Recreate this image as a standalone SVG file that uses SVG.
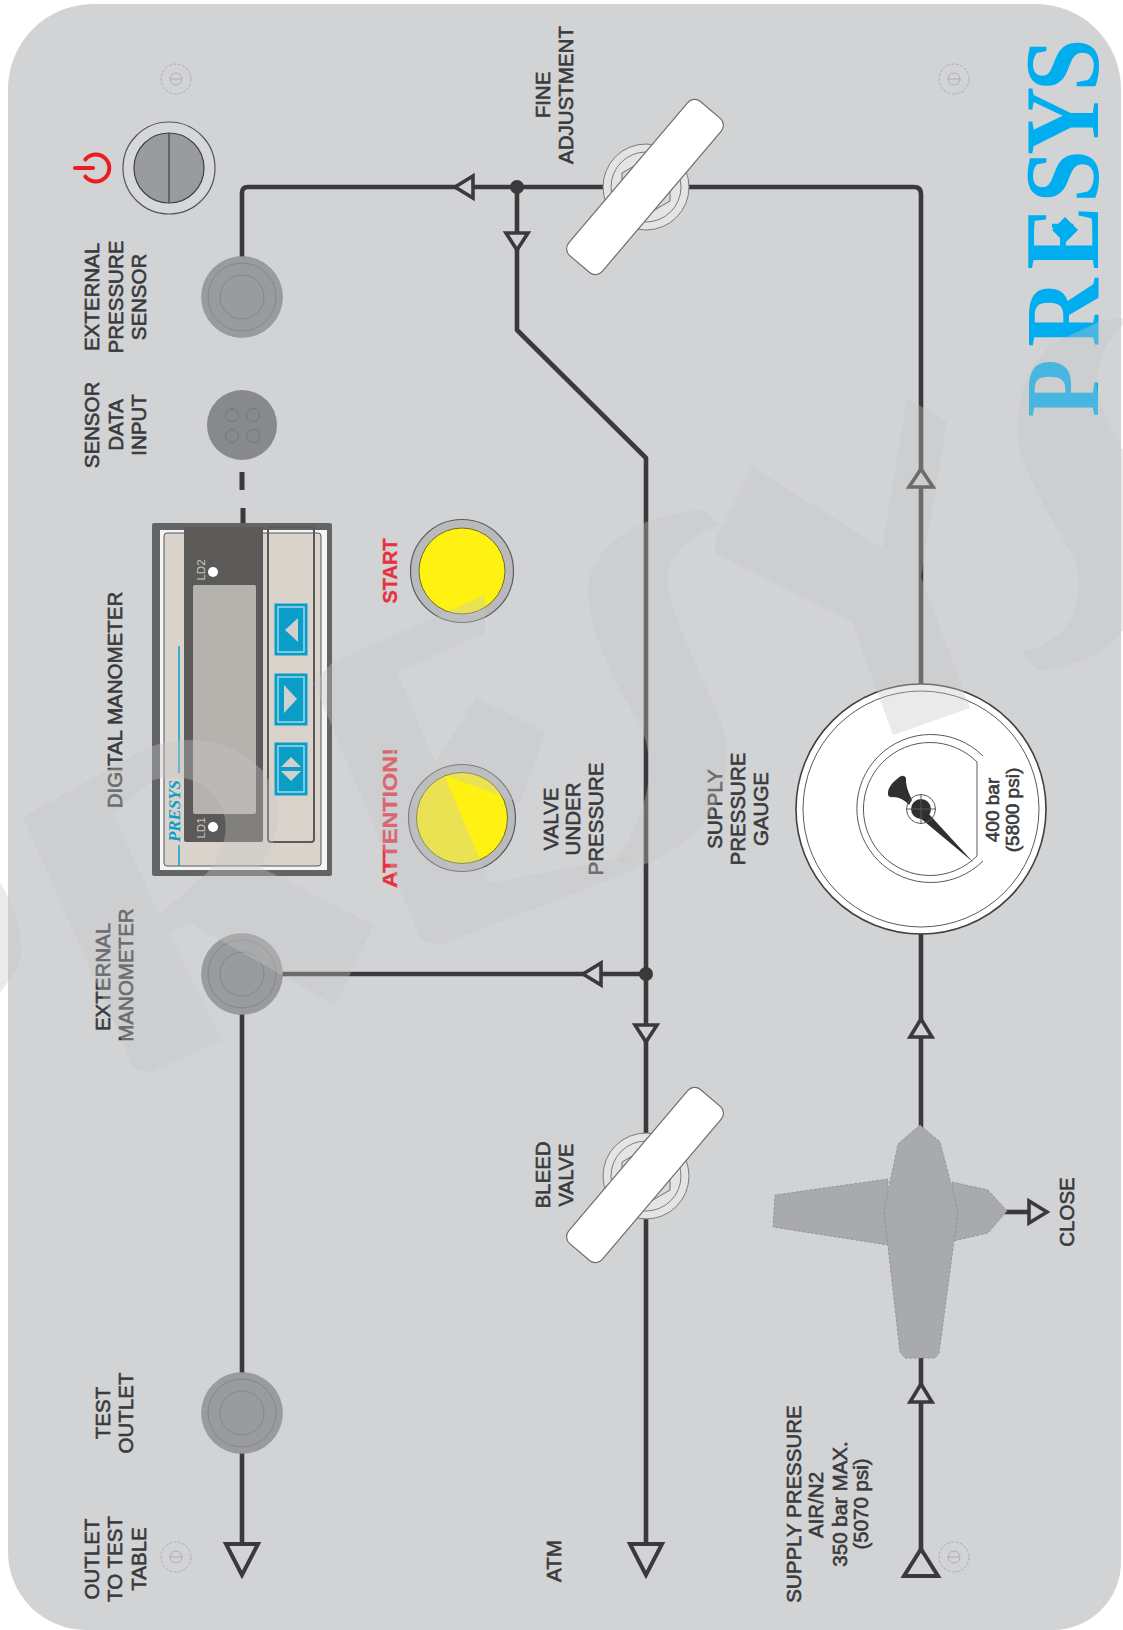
<svg xmlns="http://www.w3.org/2000/svg" width="1123" height="1630" viewBox="0 0 1123 1630">
<defs>
<style>
.lb{font-family:"Liberation Sans",Arial,sans-serif;font-size:20.5px;fill:#3a3a3c;stroke:#3a3a3c;stroke-width:.6;text-anchor:middle}
.rd{font-family:"Liberation Sans",Arial,sans-serif;font-size:20px;font-weight:bold;fill:#e8303e;stroke:#e8303e;stroke-width:.3;text-anchor:middle}
.ld{font-family:"Liberation Sans",Arial,sans-serif;font-size:11.5px;fill:#c9c7c2;text-anchor:middle}
.pipe{fill:none;stroke:#3a3a3c;stroke-width:4.6;stroke-linejoin:round}
.arr{fill:#d2d3d5;stroke:#3a3a3c;stroke-width:3.6;stroke-linejoin:miter}
.dot{fill:#3a3a3c}
.out{fill:#9a9b9d;stroke:#8f9092;stroke-width:.6}
.ring{fill:none;stroke:#808183;stroke-width:.8}
.scr{fill:none;stroke:#a2a3a5;stroke-width:.8}
.scrd{fill:none;stroke:#a2a3a5;stroke-width:.8;stroke-dasharray:3 1.5}
.hole{fill:none;stroke:#757678;stroke-width:1}
.handle{fill:#fff;stroke:#6c6d6f;stroke-width:1.2}
.vr{fill:#e4e4e5;stroke:#7a7b7d;stroke-width:1}
.vh{fill:#d8d9da;stroke:#6f7072;stroke-width:1}
.yr{fill:#b9babc;stroke:#58595b;stroke-width:1.2}
.yl{fill:#fff212;stroke:#6e6a30;stroke-width:1}
.key{fill:#0a9dc8;stroke:#0a9dc8;stroke-width:1}
.kin{fill:none;stroke:#bfe6f0;stroke-width:1.2}
.ktri{fill:#d0d0cc}
.sv{fill:#a9aaac;stroke:#8c8d8f;stroke-width:.8;stroke-dasharray:3 1.5}
.gl{fill:none;stroke:#58595b;stroke-width:1}
.wm{fill:#c4c4c4;opacity:.36}
</style>
</defs>

<rect width="1123" height="1630" fill="#fff"/>
<path id="panel" d="M93,4H1036A85,85 0 0 1 1121,89V1562A68,68 0 0 1 1053,1630H86A78,78 0 0 1 8,1552V89A85,85 0 0 1 93,4Z" fill="#d2d3d5"/>

<g id="screws">
<g id="screw-1"><circle class="scrd" cx="176" cy="79" r="15"/><circle class="scr" cx="176" cy="79" r="6"/><path class="scr" d="M170,79H182"/></g>
<g id="screw-2"><circle class="scrd" cx="954" cy="79" r="15"/><circle class="scr" cx="954" cy="79" r="6"/><path class="scr" d="M948,79H960"/></g>
<g id="screw-3"><circle class="scrd" cx="176" cy="1557" r="15"/><circle class="scr" cx="176" cy="1557" r="6"/><path class="scr" d="M170,1557H182"/></g>
<g id="screw-4"><circle class="scrd" cx="954" cy="1557" r="15"/><circle class="scr" cx="954" cy="1557" r="6"/><path class="scr" d="M948,1557H960"/></g>
</g>

<g id="connectors">
<path class="pipe" d="M242,260V193Q242,187 248,187H914Q921,187 921,194V690"/>
<path class="pipe" d="M517,187V330L646,458V1548"/>
<path class="pipe" d="M282,974H646"/>
<path class="pipe" d="M242,1010V1545"/>
<path class="pipe" d="M921,930V1128"/>
<path class="pipe" d="M921,1355V1550"/>
<path class="pipe" d="M1005,1212H1028"/>
<path d="M242,472V490M243,508V524" fill="none" stroke="#3a3a3c" stroke-width="5"/>
<circle class="dot" cx="517" cy="187" r="7"/>
<circle class="dot" cx="646" cy="974" r="7"/>
<polygon class="arr" points="455,187 473,176 473,198"/>
<polygon class="arr" points="517,250 506,233 528,233"/>
<polygon class="arr" points="583,974 601,963 601,985"/>
<polygon class="arr" points="646,1042 635,1025 657,1025"/>
<polygon class="arr" points="921,469 909,487 933,487"/>
<polygon class="arr" points="921,1019 910,1037 932,1037"/>
<polygon class="arr" points="921,1384 910,1402 932,1402"/>
<polygon class="arr" points="1047,1212 1029,1201 1029,1223"/>
<polygon class="arr" style="stroke-width:4" points="242,1575 226,1544 258,1544"/>
<polygon class="arr" style="stroke-width:4" points="646,1575 630,1544 662,1544"/>
<polygon class="arr" style="stroke-width:4" points="921,1549 904,1576 938,1576"/>
</g>

<g id="power-button">
<path d="M85.3,159.5A13.5,13.5 0 1 1 85.3,176.5M75,168H93" fill="none" stroke="#ed1c24" stroke-width="4" stroke-linecap="round"/>
<circle cx="169" cy="168" r="46" fill="#d6d7d9" stroke="#55565a" stroke-width="1.2"/>
<circle cx="169" cy="168" r="35" fill="#9a9b9d" stroke="#3f4042" stroke-width="1.2"/>
<path d="M169,133V203" stroke="#3f4042" stroke-width="1.2"/>
</g>

<g id="external-pressure-sensor"><circle class="out" cx="242" cy="297" r="40.5"/><circle class="ring" cx="242" cy="297" r="34"/><circle class="ring" cx="242" cy="297" r="22"/></g>
<g id="sensor-data-input"><circle cx="242" cy="425" r="35" fill="#88898b"/><circle class="hole" cx="232" cy="415" r="6.5"/><circle class="hole" cx="253" cy="415" r="6.5"/><circle class="hole" cx="232" cy="436" r="6.5"/><circle class="hole" cx="253" cy="436" r="6.5"/></g>
<g id="external-manometer"><circle class="out" cx="242" cy="974" r="40.5"/><circle class="ring" cx="242" cy="974" r="34"/><circle class="ring" cx="242" cy="974" r="22"/></g>
<g id="test-outlet"><circle class="out" cx="242" cy="1413" r="40.5"/><circle class="ring" cx="242" cy="1413" r="34"/><circle class="ring" cx="242" cy="1413" r="22"/></g>

<g id="digital-manometer">
<rect x="152" y="523" width="180" height="353" rx="2" fill="#636466"/>
<rect x="160" y="530" width="167" height="340" fill="#f4f4f2"/>
<rect x="164" y="533" width="157" height="333" rx="3" fill="#d9d3cb" stroke="#55565a" stroke-width="1"/>
<rect x="184" y="527" width="79" height="315" rx="2" fill="#5b5a58"/>
<rect x="193" y="585" width="63" height="229" rx="2" fill="#b5b3ad"/>
<circle cx="213" cy="572" r="5" fill="#fff"/>
<circle cx="213" cy="827" r="5" fill="#fff"/>
<text class="ld" transform="translate(205,570) rotate(-90)">LD2</text>
<text class="ld" transform="translate(205,828) rotate(-90)">LD1</text>
<rect x="268" y="527" width="46" height="315" rx="3" fill="none" stroke="#5b5a58" stroke-width="2"/>
<rect class="key" x="275" y="604" width="32" height="51"/><rect class="kin" x="278" y="607" width="26" height="45"/><polygon class="ktri" points="285,630 298,618 298,642"/>
<rect class="key" x="275" y="674" width="32" height="51"/><rect class="kin" x="278" y="677" width="26" height="45"/><polygon class="ktri" points="297,699 284,685 284,713"/>
<rect class="key" x="275" y="743" width="32" height="52"/><rect class="kin" x="278" y="746" width="26" height="46"/><polygon class="ktri" points="291,757 281,767 301,767"/><polygon class="ktri" points="291,781 281,771 301,771"/>
<path d="M179,646V773M179,845V866" stroke="#1aa5cb" stroke-width="1.6" fill="none"/>
<text transform="translate(180,842) rotate(-90)" font-family="'Liberation Serif',serif" font-weight="bold" font-style="italic" font-size="17" fill="#0a9ec9" textLength="62" lengthAdjust="spacingAndGlyphs">PRESYS</text>
</g>

<g id="start-button"><circle class="yr" cx="462" cy="571" r="51.5"/><circle class="yl" cx="462" cy="571" r="43"/></g>
<g id="attention-button"><circle class="yr" cx="462" cy="818" r="53.5"/><circle class="yl" cx="462" cy="818" r="45.5"/></g>

<g id="fine-adjustment-valve">
<circle class="vr" cx="646" cy="187" r="43"/><circle class="vr" cx="646" cy="187" r="35"/><polygon class="vh" points="646,159 670,173 670,201 646,215 622,201 622,173"/>
<rect class="handle" x="-101" y="-22" width="202" height="44" rx="9" transform="translate(645,187) rotate(-49.7)"/>
</g>
<g id="bleed-valve">
<circle class="vr" cx="646" cy="1176" r="43"/><circle class="vr" cx="646" cy="1176" r="35"/><polygon class="vh" points="646,1148 670,1162 670,1190 646,1204 622,1190 622,1162"/>
<rect class="handle" x="-101" y="-22" width="202" height="44" rx="9" transform="translate(645,1175) rotate(-49.7)"/>
</g>

<g id="supply-pressure-gauge">
<circle cx="921" cy="809" r="125" fill="#fff" stroke="#3f4042" stroke-width="1.6"/>
<circle class="gl" cx="921" cy="809" r="118"/>
<path class="gl" d="M983,756A74,74 0 1 0 983,861"/>
<path class="gl" d="M977,762A66.5,66.5 0 1 0 977,856Z"/>
<path d="M973,862L927,812L919,817Z" fill="#2f2f31"/>
<path d="M912,800Q905,786 906,778Q903,773 897,779Q889,785 888,792Q887,798 893,797Q902,797 909,805Z" fill="#2f2f31"/>
<circle cx="921" cy="809" r="10" fill="#2f2f31"/>
<circle class="gl" cx="921" cy="809" r="14.5"/>
<path class="gl" d="M921,794V824M906,809H936"/>
<text class="lb" style="font-size:19px" transform="translate(999,810) rotate(-90)">400 bar</text>
<text class="lb" style="font-size:19px" transform="translate(1019,810) rotate(-90)">(5800 psi)</text>
</g>

<g id="supply-valve">
<polygon class="sv" points="888,1179 775,1195 773,1227 888,1245"/>
<polygon class="sv" points="952,1182 988,1190 1007,1211 988,1233 953,1241"/>
<polygon class="sv" points="920,1125 940,1142 958,1211 939,1353 935,1358 905,1358 900,1352 884,1211 898,1144"/>
</g>

<g id="presys-logo">
<text transform="translate(1098,417) rotate(-90) scale(.9,1)" x="0 78 164 238 291 362" font-family="'Liberation Serif',serif" font-weight="bold" font-size="105" fill="#00aeef">PRESYS</text>
<polygon points="1065,217 1078,230 1065,243 1052,230" fill="#00aeef"/>
</g>

<g id="labels">
<text class="lb" transform="translate(99,297) rotate(-90)">EXTERNAL</text>
<text class="lb" transform="translate(123,297) rotate(-90)">PRESSURE</text>
<text class="lb" transform="translate(146,297) rotate(-90)">SENSOR</text>
<text class="lb" transform="translate(99,425) rotate(-90)">SENSOR</text>
<text class="lb" transform="translate(123,425) rotate(-90)">DATA</text>
<text class="lb" transform="translate(146,425) rotate(-90)">INPUT</text>
<text class="lb" transform="translate(550,95) rotate(-90)">FINE</text>
<text class="lb" transform="translate(573,95) rotate(-90)">ADJUSTMENT</text>
<text class="lb" transform="translate(122,700) rotate(-90)">DIGITAL MANOMETER</text>
<text class="rd" transform="translate(397,571) rotate(-90)">START</text>
<text class="rd" transform="translate(397,818) rotate(-90)" textLength="140" lengthAdjust="spacingAndGlyphs">ATTENTION!</text>
<text class="lb" transform="translate(558,819) rotate(-90)">VALVE</text>
<text class="lb" transform="translate(580,819) rotate(-90)">UNDER</text>
<text class="lb" transform="translate(603,819) rotate(-90)">PRESSURE</text>
<text class="lb" transform="translate(722,809) rotate(-90)">SUPPLY</text>
<text class="lb" transform="translate(745,809) rotate(-90)">PRESSURE</text>
<text class="lb" transform="translate(768,809) rotate(-90)">GAUGE</text>
<text class="lb" transform="translate(550,1175) rotate(-90)">BLEED</text>
<text class="lb" transform="translate(573,1175) rotate(-90)">VALVE</text>
<text class="lb" transform="translate(561,1561) rotate(-90)">ATM</text>
<text class="lb" transform="translate(1074,1212) rotate(-90)">CLOSE</text>
<text class="lb" transform="translate(801,1504) rotate(-90)">SUPPLY PRESSURE</text>
<text class="lb" transform="translate(823,1505) rotate(-90)">AIR/N2</text>
<text class="lb" transform="translate(847,1504) rotate(-90)">350 bar MAX.</text>
<text class="lb" transform="translate(868,1504) rotate(-90)">(5070 psi)</text>
<text class="lb" transform="translate(99,1559) rotate(-90)">OUTLET</text>
<text class="lb" transform="translate(122,1559) rotate(-90)">TO TEST</text>
<text class="lb" transform="translate(146,1559) rotate(-90)">TABLE</text>
<text class="lb" transform="translate(110,1413) rotate(-90)">TEST</text>
<text class="lb" transform="translate(133,1413) rotate(-90)">OUTLET</text>
<text class="lb" transform="translate(110,977) rotate(-90)">EXTERNAL</text>
<text class="lb" transform="translate(133,975) rotate(-90)">MANOMETER</text>
</g>

<g id="watermark">
<path class="wm" d="M0,883C15,905 25,945 20,960C15,975 5,985 0,993Z"/>
<path class="wm" fill-rule="evenodd" d="M23,817L149,747Q215,725 262,770Q295,815 260,867L374,925L335,1005L190,923L169,933L222,1040L149,1073L134,1068ZM113,813L159,915L207,873Q240,830 215,795Q190,770 153,780Z"/>
<polygon class="wm" points="485,595 485,633 397,672 435,763 476,698 546,732 520,803 444,775 490,883 620,858 640,868 439,945 421,940 314,683 332,663"/>
<path class="wm" d="M705,510C620,515 588,560 588,590C590,640 620,690 640,725C660,770 645,815 617,860L640,866C700,845 745,790 720,720C700,670 668,610 668,580C668,560 680,540 718,525Z"/>
<polygon class="wm" points="752,467 715,540 715,553 852,622 893,735 970,708 921,577 947,422 907,398 882,548"/>
<path class="wm" d="M1103,320L1123,318V325C1100,345 1095,375 1097,390C1105,420 1115,435 1123,450V630C1110,650 1070,670 1038,670L1022,652C1075,640 1085,600 1075,560C1040,500 1018,460 1018,433C1018,390 1027,367 1053,343Z"/>
</g>
</svg>
